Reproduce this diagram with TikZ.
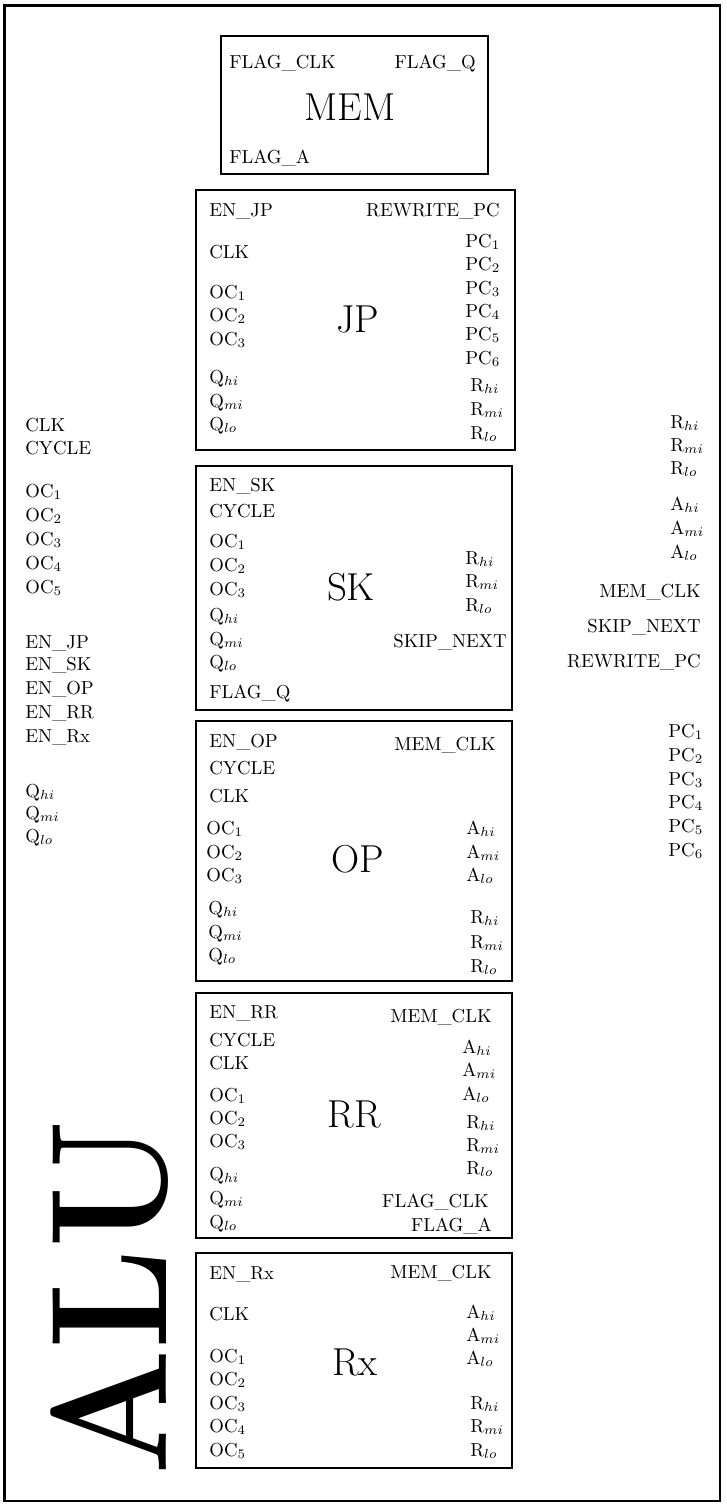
\documentclass[tikz,border=0pt]{standalone}
\usepackage{amsmath,amssymb}
\usepackage{graphicx}
\usepackage{tikz}

\begin{document}
\begin{tikzpicture}[x=0.532pt,y=-0.532pt,
  block/.style={draw,line width=0.6pt},
  pinl/.style={anchor=base west,inner sep=0pt},
  pinr/.style={anchor=base east,inner sep=0pt},
  blockname/.style={anchor=base,inner sep=0pt,font=\huge}]
  \useasboundingbox (0,0) rectangle (726,1505);
  \draw[line width=1.3pt] (4.5,5.5) rectangle (720,1501);
  \node[rotate=90,inner sep=0pt] (alu) at (110,1298)
    {\fontsize{88}{96}\selectfont\bfseries\scalebox{0.9}[1]{ALU}};

  \foreach \t/\y [count=\i] in {CLK/431,CYCLE/454,OC$_1$/497,OC$_2$/521,
    OC$_3$/545,OC$_4$/569,OC$_5$/593,EN\_JP/648,EN\_SK/670,EN\_OP/694,
    EN\_RR/718,EN\_Rx/742,Q$_{hi}$/797,Q$_{mi}$/819,Q$_{lo}$/842}
    \node[pinl] (aluin\i) at (25,\y) {\t};
  \foreach \t/\x/\y [count=\i] in {R$_{hi}$/670/428,R$_{mi}$/670/451,
    R$_{lo}$/670/474,A$_{hi}$/670/510,A$_{mi}$/670/534,A$_{lo}$/670/558,
    PC$_1$/668/737,PC$_2$/668/761,PC$_3$/668/785,PC$_4$/668/808,
    PC$_5$/668/832,PC$_6$/668/856}
    \node[pinl] (aluout\i) at (\x,\y) {\t};
  \foreach \t/\y [count=\i] in {MEM\_CLK/597,SKIP\_NEXT/632,REWRITE\_PC/667}
    \node[pinr] (alusig\i) at (701,\y) {\t};

  \draw[block] (221,36) rectangle (488,174);
  \node[blockname] (mem) at (350,120) {MEM};
  \node[pinl] (memclk) at (229,68) {FLAG\_CLK};
  \node[pinr] (memq) at (476,68) {FLAG\_Q};
  \node[pinl] (mema) at (229,163) {FLAG\_A};

  \draw[block] (196,190) rectangle (515,450);
  \node[blockname] (jp) at (358,332) {JP};
  \foreach \t/\y [count=\i] in {EN\_JP/216,CLK/258,OC$_1$/298,OC$_2$/321,
    OC$_3$/345,Q$_{hi}$/383,Q$_{mi}$/407,Q$_{lo}$/430}
    \node[pinl] (jpin\i) at (209,\y) {\t};
  \foreach \t/\x/\y [count=\i] in {PC$_1$/465/247,PC$_2$/465/270,
    PC$_3$/465/294,PC$_4$/465/317,PC$_5$/465/340,PC$_6$/465/364,
    R$_{hi}$/470/391,R$_{mi}$/470/415,R$_{lo}$/470/439}
    \node[pinl] (jpout\i) at (\x,\y) {\t};
  \node[pinr] (jprw) at (500,216) {REWRITE\_PC};

  \draw[block] (196,466) rectangle (512,710);
  \node[blockname] (sk) at (351,600) {SK};
  \foreach \t/\y [count=\i] in {EN\_SK/491,CYCLE/517,OC$_1$/547,OC$_2$/571,
    OC$_3$/595,Q$_{hi}$/621,Q$_{mi}$/645,Q$_{lo}$/668,FLAG\_Q/698}
    \node[pinl] (skin\i) at (209,\y) {\t};
  \foreach \t/\y [count=\i] in {R$_{hi}$/564,R$_{mi}$/587,R$_{lo}$/611}
    \node[pinl] (skout\i) at (465,\y) {\t};
  \node[pinr] (skskip) at (507,647) {SKIP\_NEXT};

  \draw[block] (196,721) rectangle (512,981);
  \node[blockname] (op) at (358,872) {OP};
  \foreach \t/\x/\y [count=\i] in {EN\_OP/209/747,CYCLE/209/774,CLK/209/802,
    OC$_1$/206/834,OC$_2$/206/858,OC$_3$/206/881,Q$_{hi}$/208/914,
    Q$_{mi}$/208/938,Q$_{lo}$/208/961}
    \node[pinl] (opin\i) at (\x,\y) {\t};
  \foreach \t/\x/\y [count=\i] in {A$_{hi}$/466/834,A$_{mi}$/466/858,
    A$_{lo}$/466/881,R$_{hi}$/470/923,R$_{mi}$/470/948,R$_{lo}$/470/972}
    \node[pinl] (opout\i) at (\x,\y) {\t};
  \node[pinr] (opmem) at (496,750) {MEM\_CLK};

  \draw[block] (196,993) rectangle (512,1238);
  \node[blockname] (rr) at (354,1127) {RR};
  \foreach \t/\y [count=\i] in {EN\_RR/1018,CYCLE/1046,CLK/1069,
    OC$_1$/1101,OC$_2$/1124,OC$_3$/1147,Q$_{hi}$/1180,Q$_{mi}$/1204,
    Q$_{lo}$/1228}
    \node[pinl] (rrin\i) at (209,\y) {\t};
  \foreach \t/\x/\y [count=\i] in {A$_{hi}$/462/1053,A$_{mi}$/462/1076,
    A$_{lo}$/462/1100,R$_{hi}$/466/1128,R$_{mi}$/466/1151,R$_{lo}$/466/1174}
    \node[pinl] (rrout\i) at (\x,\y) {\t};
  \foreach \t/\x/\y [count=\i] in {MEM\_CLK/492/1022,FLAG\_CLK/489/1207,
    FLAG\_A/492/1231}
    \node[pinr] (rrsig\i) at (\x,\y) {\t};

  \draw[block] (196,1253) rectangle (512,1468);
  \node[blockname] (rx) at (355,1375) {Rx};
  \foreach \t/\y [count=\i] in {EN\_Rx/1279,CLK/1320,OC$_1$/1362,
    OC$_2$/1385,OC$_3$/1409,OC$_4$/1432,OC$_5$/1456}
    \node[pinl] (rxin\i) at (209,\y) {\t};
  \foreach \t/\x/\y [count=\i] in {A$_{hi}$/466/1318,A$_{mi}$/466/1341,
    A$_{lo}$/466/1364,R$_{hi}$/470/1409,R$_{mi}$/470/1432,R$_{lo}$/470/1456}
    \node[pinl] (rxout\i) at (\x,\y) {\t};
  \node[pinr] (rxmem) at (492,1278) {MEM\_CLK};
\end{tikzpicture}
\end{document}
